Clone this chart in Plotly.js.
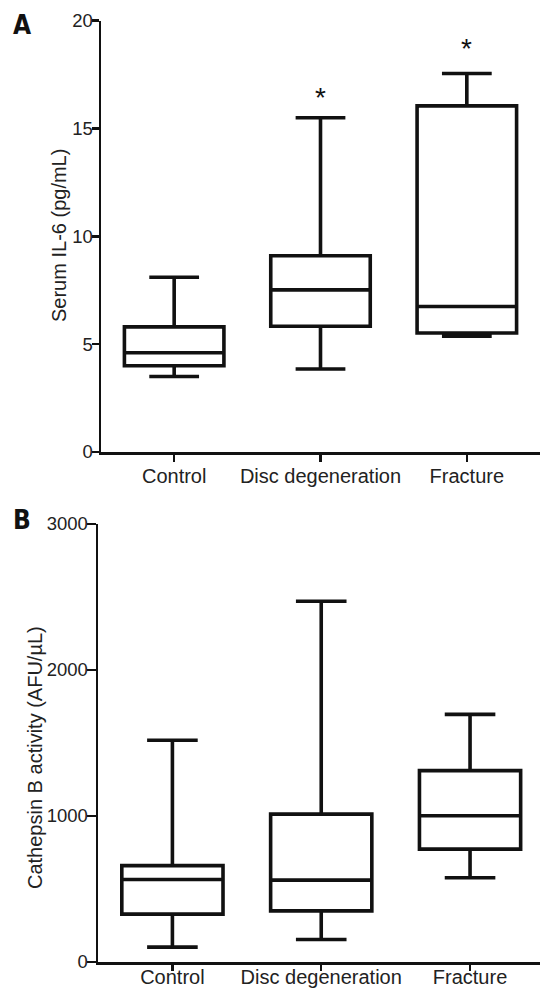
<!DOCTYPE html>
<html>
<head>
<meta charset="utf-8">
<script src="https://cdn.plot.ly/plotly-3.0.1.min.js"></script>
<style>html,body{margin:0;padding:0;background:#fff;}#chart{width:540px;height:990px;}</style>
</head>
<body>
<div id="chart"></div>
<script>
// Categories
const groups = ["Control", "Disc degeneration", "Fracture"];

// Panel A: Serum IL-6 (pg/mL)
const il6Lower  = [3.5, 3.85, 5.37];
const il6Q1     = [4.0, 5.83, 5.52];
const il6Median = [4.6, 7.52, 6.75];
const il6Q3     = [5.8, 9.1, 16.05];
const il6Upper  = [8.1, 15.5, 17.55];
const il6SigGroups = ["Disc degeneration", "Fracture"];
const il6SigY      = [16.7, 19.0];

// Panel B: Cathepsin B activity (AFU/µL)
const ctsLower  = [102, 154, 577];
const ctsQ1     = [328, 350, 773];
const ctsMedian = [565, 561, 1002];
const ctsQ3     = [660, 1013, 1311];
const ctsUpper  = [1519, 2471, 1696];

const yTicksA = [0, 5, 10, 15, 20];
const yTicksB = [0, 1000, 2000, 3000];

const ink = "#111";
const lw = 3.6;
const sans = "Liberation Sans, Arial, sans-serif";

const boxStyle = {
  type: "box",
  boxpoints: false,
  fillcolor: "#fff",
  line: {color: ink, width: lw},
  width: 0.68,
  whiskerwidth: 0.5,
  showlegend: false,
  hoverinfo: "skip"
};

const traces = [
  Object.assign({}, boxStyle, {
    x: groups, lowerfence: il6Lower, q1: il6Q1, median: il6Median, q3: il6Q3, upperfence: il6Upper,
    xaxis: "x", yaxis: "y"
  }),
  Object.assign({}, boxStyle, {
    x: groups, lowerfence: ctsLower, q1: ctsQ1, median: ctsMedian, q3: ctsQ3, upperfence: ctsUpper,
    xaxis: "x2", yaxis: "y2"
  })
];

const tickFont = {family: sans, size: 18.5, color: "#222"};
const xTickFont = {family: sans, size: 20, color: "#222"};
const titleFont = {family: sans, size: 20, color: "#222"};

function xAxis(domain, range, ticklen, standoff) {
  return {
    domain: domain, type: "category", categoryorder: "array", categoryarray: groups,
    range: range, showline: true, linecolor: ink, linewidth: 2.5,
    ticks: "outside", ticklen: ticklen, tickwidth: 2.5, tickcolor: ink,
    ticklabelstandoff: standoff,
    tickfont: xTickFont, showgrid: false, zeroline: false, fixedrange: true
  };
}
function yAxis(domain, range, ticks, ticklen) {
  return {
    domain: domain, range: range, tickvals: ticks, ticktext: ticks.map(String),
    showline: true, linecolor: ink, linewidth: 2.5,
    ticks: "outside", ticklen: ticklen, tickwidth: 2.5, tickcolor: ink,
    ticklabelstandoff: -5,
    tickfont: tickFont, showgrid: false, zeroline: false, fixedrange: true
  };
}

const annotations = il6SigGroups.map((g, i) => ({
  x: g, y: il6SigY[i], xref: "x", yref: "y", text: "*", showarrow: false,
  font: {family: sans, size: 28, color: ink},
  xanchor: "center", yanchor: "middle", yshift: -6
}));

// panel letters and axis titles, placed in pixels then converted to paper coords
const pixelTexts = [
  {px: 22, py: 25, text: "<b>A</b>", font: {family: "Liberation Sans Narrow, DejaVu Sans Condensed, Arial Narrow, sans-serif", size: 26, color: ink}, angle: 0},
  {px: 22, py: 520, text: "<b>B</b>", font: {family: "Liberation Sans Narrow, DejaVu Sans Condensed, Arial Narrow, sans-serif", size: 26, color: ink}, angle: 0},
  {px: 59, py: 236, text: "Serum IL-6 (pg/mL)", font: titleFont, angle: -90},
  {px: 35, py: 758, text: "Cathepsin B activity (AFU/µL)", font: titleFont, angle: -90}
];
pixelTexts.forEach(t => annotations.push({
  x: t.px / 540, y: 1 - t.py / 990, xref: "paper", yref: "paper", text: t.text,
  showarrow: false, font: t.font, textangle: t.angle, xanchor: "center", yanchor: "middle"
}));

const layout = {
  width: 540, height: 990,
  margin: {l: 0, r: 0, t: 0, b: 0},
  paper_bgcolor: "#fff", plot_bgcolor: "#fff",
  showlegend: false,
  xaxis: Object.assign(xAxis([101/540, 1], [-0.5, 2.5], 7, -3), {anchor: "y"}),
  yaxis: Object.assign(yAxis([1 - 452/990, 1 - 20.7/990], [0, 20], yTicksA, 7), {anchor: "x"}),
  xaxis2: Object.assign(xAxis([98/540, 1], [-0.5, 2.47], 6, -11), {anchor: "y2"}),
  yaxis2: Object.assign(yAxis([1 - 962/990, 1 - 524/990], [0, 3000], yTicksB, 9), {anchor: "x2"}),
  annotations: annotations
};

Plotly.newPlot("chart", traces, layout, {displayModeBar: false, staticPlot: true});
</script>
</body>
</html>
